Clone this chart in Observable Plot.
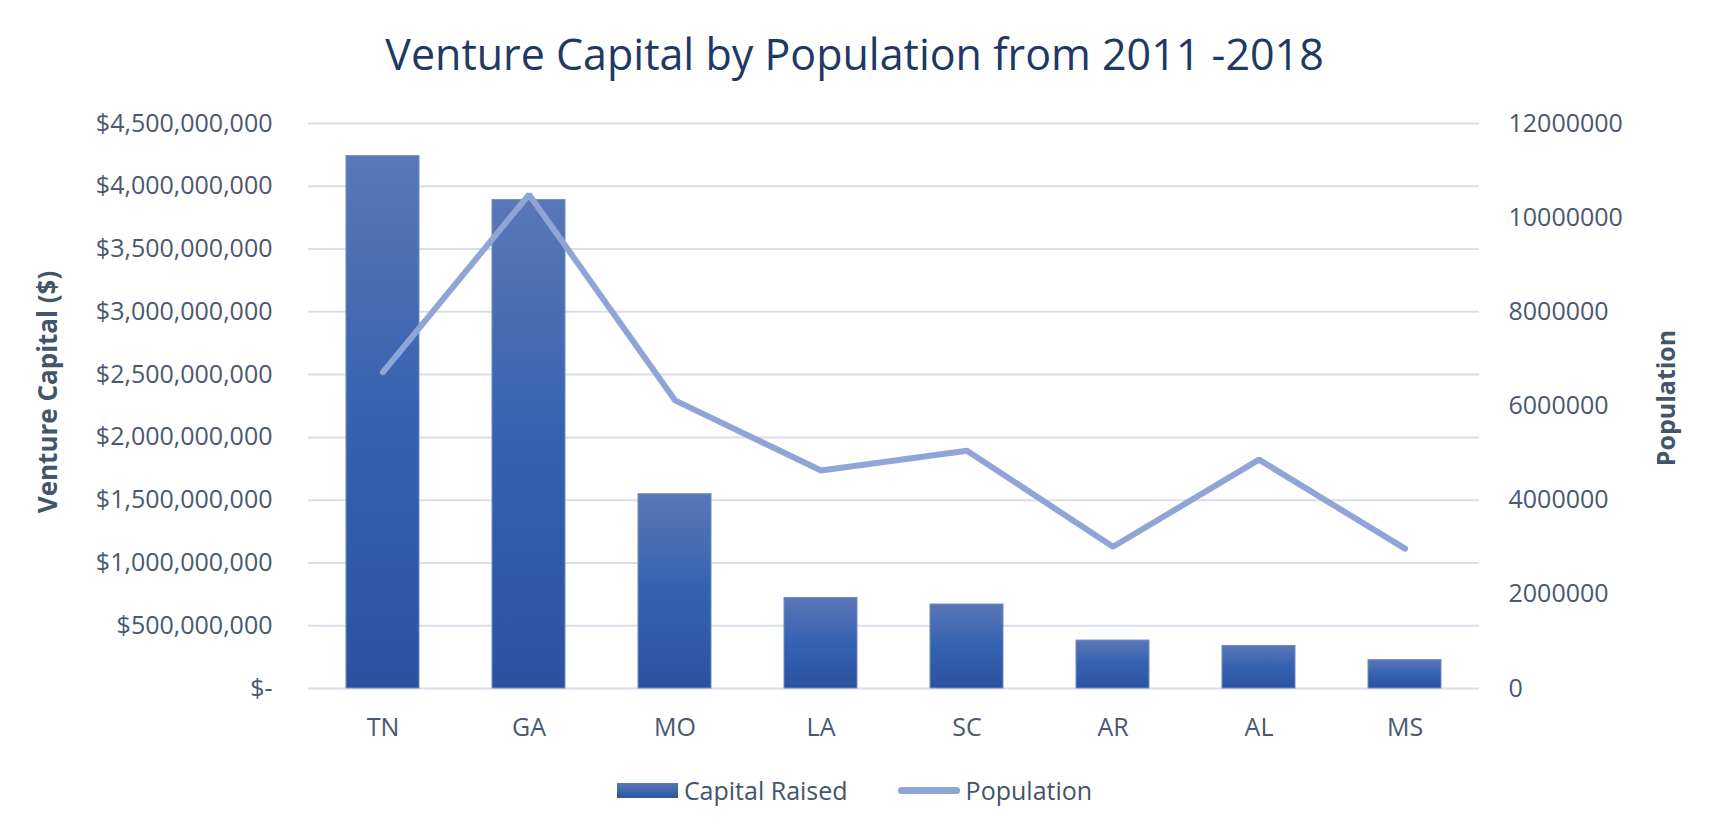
<!DOCTYPE html>
<html>
<head>
<meta charset="utf-8">
<script src="https://cdn.jsdelivr.net/npm/d3@7"></script>
<script src="https://cdn.jsdelivr.net/npm/@observablehq/plot@0.6"></script>
<style>
  html, body { margin: 0; padding: 0; background: #fff; }
  body { width: 1709px; height: 837px; overflow: hidden; font-family: "Open Sans", "Noto Sans", sans-serif; }
  #title { height: 100px; box-sizing: border-box; padding-top: 26px; text-align: center; font-size: 43px; color: #1f3864; line-height: 56px; }
  #chart { height: 655px; }
  #legend { display: flex; justify-content: center; align-items: center; height: 70px; font-size: 25px; color: #44546a; }
  .sw-bar { width: 61px; height: 15px; background: linear-gradient(#5a77b6, #2c53a0); margin-right: 6px; }
  .sw-line { width: 62px; height: 7px; border-radius: 4px; background: #8fa5d6; margin-left: 50px; margin-right: 6px; }
</style>
</head>
<body>
<div id="title">Venture Capital by Population from 2011 -2018</div>
<div id="chart"></div>
<div id="legend"><div class="sw-bar"></div><span>Capital Raised</span><div class="sw-line"></div><span>Population</span></div>
<script>
const states = ["TN", "GA", "MO", "LA", "SC", "AR", "AL", "MS"];
const capital = [4240000000, 3890000000, 1547000000, 721000000, 669000000, 382000000, 339000000, 226000000];
const population = [6720000, 10490000, 6120000, 4630000, 5050000, 3010000, 4860000, 2970000];
const capitalTicks = [0, 500000000, 1000000000, 1500000000, 2000000000, 2500000000, 3000000000, 3500000000, 4000000000, 4500000000];
const popTicks = [0, 2000000, 4000000, 6000000, 8000000, 10000000, 12000000];

const capMax = 4500000000, popMax = 12000000;
const k = capMax / popMax;
const rows = states.map((s, i) => ({state: s, capital: capital[i], popScaled: population[i] * k}));

const fmtCap = d => d === 0 ? "$-" : "$" + d3.format(",")(d);

const plot = Plot.plot({
  width: 1709,
  height: 655,
  marginTop: 23,
  marginBottom: 67,
  marginLeft: 308,
  marginRight: 230,
  style: {fontFamily: "'Open Sans', 'Noto Sans', sans-serif", fontSize: "25px", color: "#44546a", background: "#fff"},
  x: {domain: states, paddingInner: 0.5, paddingOuter: 0.25, label: null},
  y: {domain: [0, capMax], label: null},
  marks: [
    Plot.ruleY(capitalTicks, {stroke: "#d9dee8", strokeWidth: 2, strokeOpacity: 1}),
    Plot.barY(rows, {x: "state", y: "capital", fill: "url(#barGrad)", stroke: "#6f8ac6", strokeWidth: 1}),
    Plot.line(rows, {x: "state", y: "popScaled", stroke: "#8fa5d6", strokeWidth: 6, strokeLinecap: "round", strokeLinejoin: "miter"}),
    Plot.axisY({anchor: "left", ticks: capitalTicks, tickFormat: fmtCap, tickSize: 0, tickPadding: 36, label: null, fill: "#4a5870"}),
    Plot.axisY({anchor: "right", ticks: popTicks.map(v => v * k), tickFormat: d => String(Math.round(d / k)), tickSize: 0, tickPadding: 29, label: null, fill: "#4a5870", textAnchor: "start"}),
    Plot.axisX({tickSize: 0, tickPadding: 30, label: null, fill: "#4a5870"})
  ]
});

const svg = d3.select(plot);
const defs = svg.insert("defs", ":first-child");
const g = defs.append("linearGradient").attr("id", "barGrad").attr("x1", 0).attr("y1", 0).attr("x2", 0).attr("y2", 1);
g.append("stop").attr("offset", "0%").attr("stop-color", "#5a77b6");
g.append("stop").attr("offset", "50%").attr("stop-color", "#3462b1");
g.append("stop").attr("offset", "100%").attr("stop-color", "#2b52a0");

// axis titles
svg.append("text")
  .attr("transform", "translate(50,292) rotate(-90)")
  .attr("text-anchor", "middle").attr("dominant-baseline", "middle")
  .attr("font-weight", "bold").attr("font-size", 26).attr("fill", "#44546a")
  .attr("font-family", "'Open Sans', sans-serif")
  .text("Venture Capital ($)");
svg.append("text")
  .attr("transform", "translate(1668,298) rotate(-90)")
  .attr("text-anchor", "middle").attr("dominant-baseline", "middle")
  .attr("font-weight", "bold").attr("font-size", 25).attr("fill", "#44546a")
  .attr("font-family", "'Open Sans', sans-serif")
  .text("Population");

document.getElementById("chart").appendChild(plot);
</script>
</body>
</html>
